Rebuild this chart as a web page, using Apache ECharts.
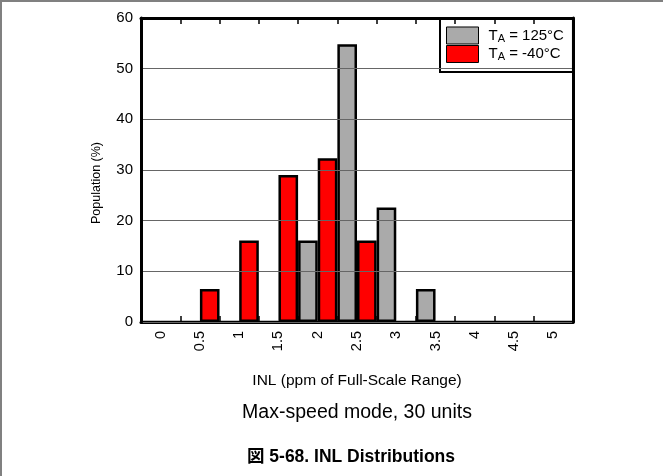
<!DOCTYPE html>
<html>
<head>
<meta charset="utf-8">
<script src="https://cdn.jsdelivr.net/npm/echarts@6/dist/echarts.min.js"></script>
<style>html,body{margin:0;padding:0;background:#fff}#c{width:663px;height:476px}</style>
</head>
<body>
<div id="c"></div>
<script>
var categories = ['0','0.5','1','1.5','2','2.5','3','3.5','4','4.5','5'];
var hot125 = [0, 0, 0, 0, 16.1, 54.8, 22.6, 6.5, 0, 0, 0];
var coldM40 = [0, 6.5, 16.1, 29.0, 32.3, 16.1, 0, 0, 0, 0, 0];
var yTicks = {min: 0, max: 60, interval: 10};

var FONT = '"Liberation Sans", Arial, "Noto Sans CJK JP", sans-serif';
var chart = echarts.init(document.getElementById('c'), null, {renderer: 'canvas'});
var legendFmt = function (name) {
  return name === 'hot' ? 'T{s|A} = 125°C' : 'T{s|A} = -40°C';
};
chart.setOption({
  backgroundColor: '#fff',
  animation: false,
  textStyle: {fontFamily: FONT},
  title: [
    {text: 'Max-speed mode, 30 units', left: 352, top: 398, textAlign: 'center',
     textStyle: {fontSize: 19.5, fontWeight: 'normal', color: '#000', fontFamily: FONT}},
    {text: '図 5-68. INL Distributions', left: 346, top: 443, textAlign: 'center',
     textStyle: {fontSize: 17.5, fontWeight: 'bold', color: '#000', fontFamily: FONT}}
  ],
  graphic: [
    {type: 'rect', left: 0, top: 0, shape: {width: 663, height: 2}, style: {fill: '#808080'}, silent: true},
    {type: 'rect', left: 0, top: 0, shape: {width: 2, height: 476}, style: {fill: '#808080'}, silent: true}
  ],
  legend: {
    left: 440, top: 18, orient: 'vertical',
    itemWidth: 32, itemHeight: 17, itemGap: 0,
    padding: [8, 9, 9, 6],
    backgroundColor: '#fff', borderColor: '#000', borderWidth: 2,
    formatter: legendFmt,
    textStyle: {fontSize: 15, lineHeight: 17, color: '#000', fontFamily: FONT, padding: [0, 0, 0, 5],
      rich: {s: {fontSize: 11, lineHeight: 17, verticalAlign: 'bottom', padding: [7, 0, 0, 0], fontFamily: FONT}}},
    data: [{name: 'hot', icon: 'rect'}, {name: 'cold', icon: 'rect'}],
    itemStyle: {borderColor: '#000', borderWidth: 1}
  },
  grid: {left: 141, top: 18, width: 432, height: 304, show: false},
  xAxis: [
    {type: 'category', data: categories, position: 'bottom',
     boundaryGap: true,
     name: 'INL (ppm of Full-Scale Range)', nameLocation: 'middle', nameGap: 51,
     nameTextStyle: {fontSize: 15.5, color: '#000', fontFamily: FONT},
     axisLine: {show: true, onZero: false, lineStyle: {color: '#000', width: 3}},
     axisTick: {show: true, inside: true, length: 6, lineStyle: {color: '#000', width: 1.5}},
     axisLabel: {rotate: 90, fontSize: 14.5, color: '#000', margin: 9, fontFamily: FONT, interval: 0},
     splitLine: {show: false}, z: 1},
    {type: 'category', data: categories, position: 'top',
     axisLine: {show: true, onZero: false, lineStyle: {color: '#000', width: 3}},
     axisTick: {show: true, inside: true, length: 6, lineStyle: {color: '#000', width: 1.5}},
     axisLabel: {show: false}, splitLine: {show: false}, z: 5}
  ],
  yAxis: [
    {type: 'value', min: yTicks.min, max: yTicks.max, interval: yTicks.interval, position: 'left',
     name: 'Population (%)', nameLocation: 'middle', nameGap: 38,
     nameTextStyle: {fontSize: 12.5, color: '#000', fontFamily: FONT, padding: [0, 26, 0, 0]},
     axisLine: {show: true, onZero: false, lineStyle: {color: '#000', width: 3}},
     axisTick: {show: false},
     axisLabel: {fontSize: 15, color: '#000', margin: 8, fontFamily: FONT},
     splitLine: {show: true, lineStyle: {color: '#666', width: 1}}, z: 5},
    {type: 'value', min: yTicks.min, max: yTicks.max, interval: yTicks.interval, position: 'right',
     axisLine: {show: true, onZero: false, lineStyle: {color: '#000', width: 3}},
     axisTick: {show: false}, axisLabel: {show: false}, splitLine: {show: false}, z: 5}
  ],
  series: [
    {name: 'hot', type: 'bar', data: hot125, barGap: '0%', barCategoryGap: '0%',
     itemStyle: {color: '#aaaaaa', borderColor: '#000', borderWidth: 2.5}},
    {name: 'cold', type: 'bar', data: coldM40, barGap: '0%', barCategoryGap: '0%',
     itemStyle: {color: '#ff0000', borderColor: '#000', borderWidth: 2.5}}
  ]
});
</script>
</body>
</html>
